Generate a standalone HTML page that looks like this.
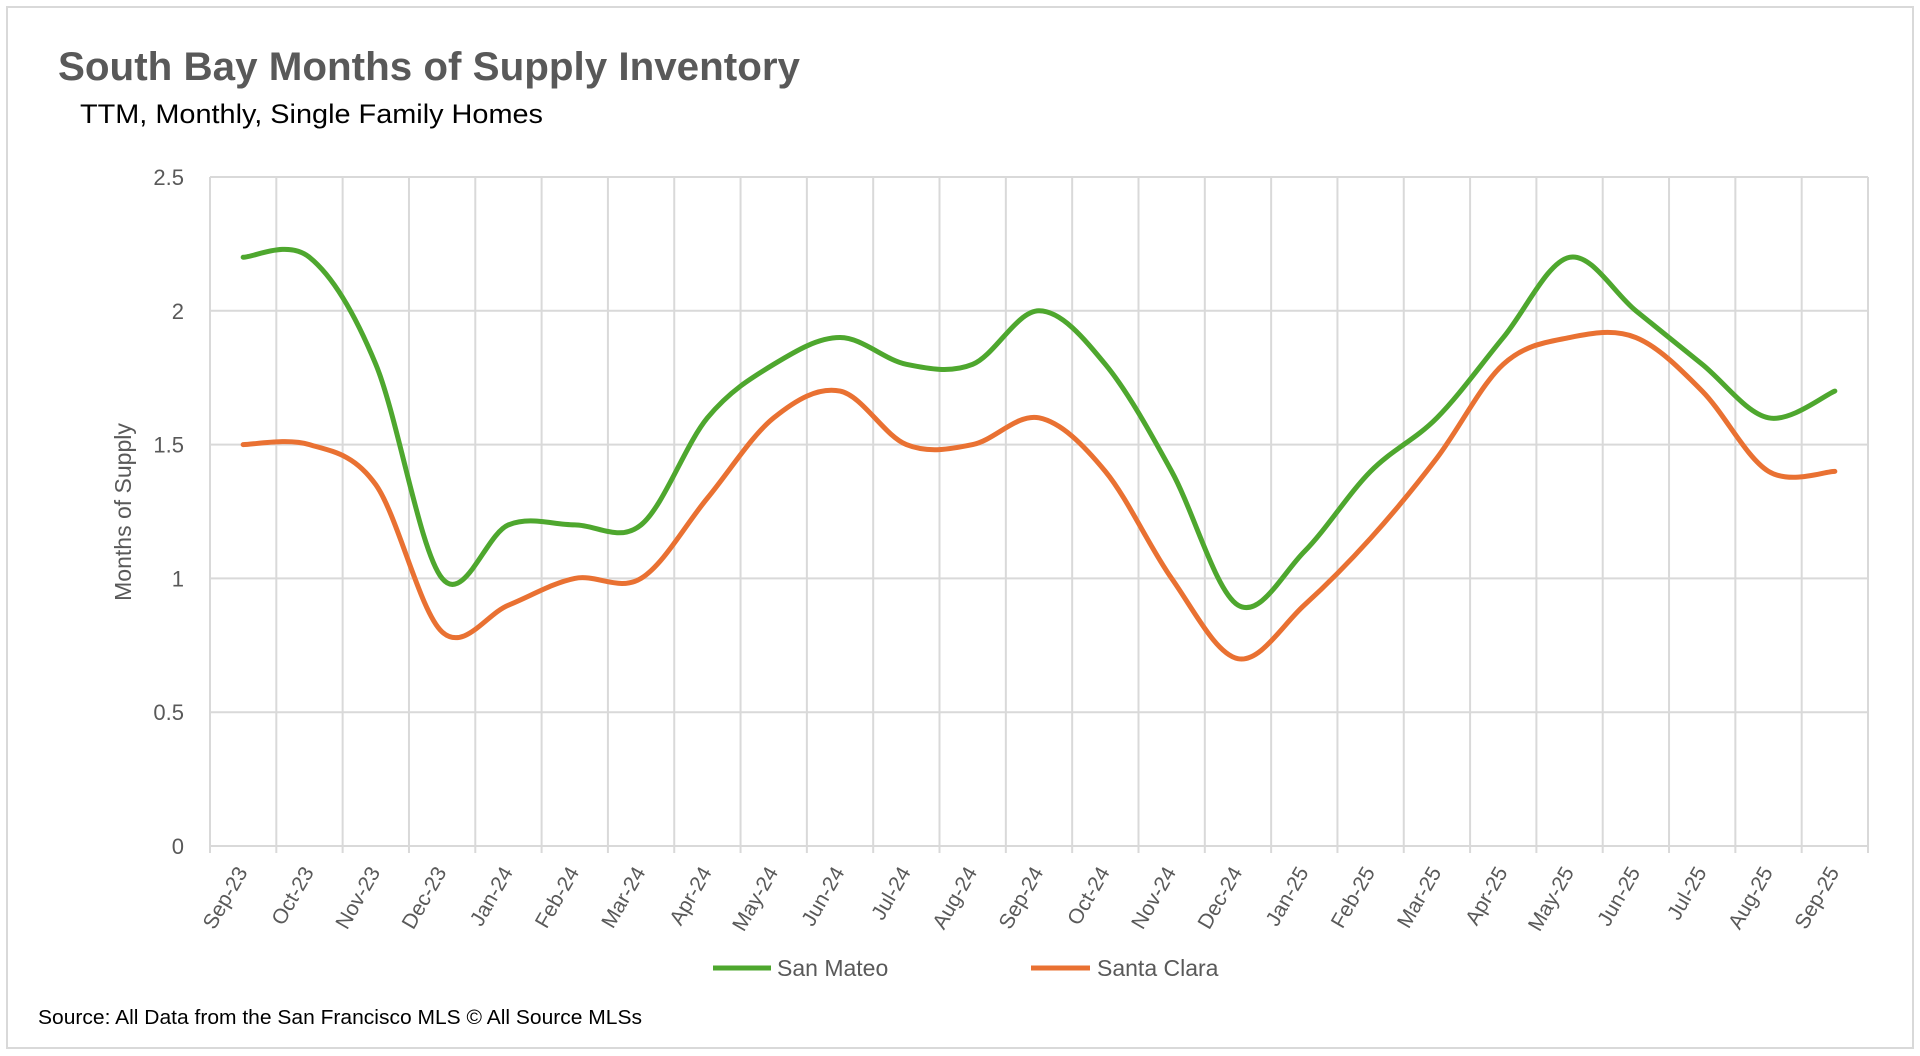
<!DOCTYPE html>
<html><head><meta charset="utf-8"><style>
html,body{margin:0;padding:0;background:#fff;}
svg{display:block;}
text{font-family:"Liberation Sans",sans-serif;}
</style></head><body>
<svg id="chart" width="1920" height="1056" viewBox="0 0 1920 1056">
<rect x="7" y="7" width="1906" height="1041" fill="#fff" stroke="#d9d9d9" stroke-width="2"/>
<text x="58" y="80" font-size="40" font-weight="bold" fill="#595959" style="font-family:'Liberation Sans Narrow','Liberation Sans',sans-serif" textLength="742" lengthAdjust="spacingAndGlyphs">South Bay Months of Supply Inventory</text>
<text x="80" y="123" font-size="27" fill="#000" style="font-family:'Liberation Sans Narrow','Liberation Sans',sans-serif" textLength="463" lengthAdjust="spacingAndGlyphs">TTM, Monthly, Single Family Homes</text>
<g id="grid"></g>
<g id="ylabels"></g>
<g id="xlabels"></g>
<g id="series"></g>
<text transform="translate(131,512) rotate(-90)" text-anchor="middle" font-size="23" fill="#595959">Months of Supply</text>
<g>
<line x1="713" y1="968" x2="771" y2="968" stroke="#4EA72E" stroke-width="5"/>
<text x="777" y="976" font-size="23" fill="#595959">San Mateo</text></g>
<g>
<line x1="1031" y1="968" x2="1090" y2="968" stroke="#E97132" stroke-width="5"/>
<text x="1097" y="976" font-size="23" fill="#595959">Santa Clara</text></g>
<text x="38" y="1024" font-size="20" fill="#000" style="font-family:'Liberation Sans Narrow','Liberation Sans',sans-serif" textLength="604" lengthAdjust="spacingAndGlyphs">Source: All Data from the San Francisco MLS © All Source MLSs</text>
</svg>
<script>
const categories = ["Sep-23","Oct-23","Nov-23","Dec-23","Jan-24","Feb-24","Mar-24","Apr-24","May-24","Jun-24","Jul-24","Aug-24","Sep-24","Oct-24","Nov-24","Dec-24","Jan-25","Feb-25","Mar-25","Apr-25","May-25","Jun-25","Jul-25","Aug-25","Sep-25"];
const sanMateo = [2.2,2.2,1.8,1.0,1.2,1.2,1.2,1.6,1.8,1.9,1.8,1.8,2.0,1.8,1.4,0.9,1.1,1.4,1.6,1.9,2.2,2.0,1.8,1.6,1.7];
const santaClara = [1.5,1.5,1.35,0.8,0.9,1.0,1.0,1.3,1.6,1.7,1.5,1.5,1.6,1.4,1.0,0.7,0.9,1.15,1.45,1.8,1.9,1.9,1.7,1.4,1.4];
const yTicks = [0,0.5,1,1.5,2,2.5];
const yTickLabels = ["0","0.5","1","1.5","2","2.5"];

const L=210,R=1868,T=177,B=846,yMax=2.5;
const cw=(R-L)/categories.length;
const xPos=i=>L+cw*(i+0.5);
const yPos=v=>B-(v/yMax)*(B-T);
const NS="http://www.w3.org/2000/svg";
function mk(tag,attrs,parent){const e=document.createElementNS(NS,tag);for(const k in attrs)e.setAttribute(k,attrs[k]);parent.appendChild(e);return e;}
const grid=document.getElementById('grid'),yl=document.getElementById('ylabels'),xl=document.getElementById('xlabels'),ser=document.getElementById('series');
yTicks.forEach((v,i)=>{
  const ln=mk('line',{x1:L,x2:R,y1:yPos(v),y2:yPos(v),stroke:'#d9d9d9','stroke-width':2},grid);
  
  
  const t=mk('text',{x:184,y:yPos(v)+8,'text-anchor':'end','font-size':22,fill:'#595959'},yl);
  t.textContent=yTickLabels[i];
  
  
});
for(let i=0;i<=categories.length;i++){
  const x=L+cw*i;
  const ln=mk('line',{x1:x,x2:x,y1:T,y2:B+7,stroke:'#d9d9d9','stroke-width':2},grid);
  
  
}
categories.forEach((c,i)=>{
  const x=xPos(i)+5,y=872;
  const t=mk('text',{x:x,y:y,'text-anchor':'end','font-size':21,fill:'#595959',transform:`rotate(-60 ${x} ${y})`},xl);
  t.textContent=c;
  
  
});
function smooth(vals){
  const p=vals.map((v,i)=>[xPos(i),yPos(v)]);
  let d=`M${p[0][0]},${p[0][1]}`;
  const k=1/6;
  for(let i=0;i<p.length-1;i++){
    const p0=p[i-1]||p[i],p1=p[i],p2=p[i+1],p3=p[i+2]||p[i+1];
    const c1=[p1[0]+(p2[0]-p0[0])*k,p1[1]+(p2[1]-p0[1])*k];
    const c2=[p2[0]-(p3[0]-p1[0])*k,p2[1]-(p3[1]-p1[1])*k];
    d+=` C${c1[0]},${c1[1]} ${c2[0]},${c2[1]} ${p2[0]},${p2[1]}`;
  }
  return d;
}
const l1=mk('path',{d:smooth(sanMateo),fill:'none',stroke:'#4EA72E','stroke-width':5,'stroke-linecap':'round'},ser);


const l2=mk('path',{d:smooth(santaClara),fill:'none',stroke:'#E97132','stroke-width':5,'stroke-linecap':'round'},ser);


</script>
</body></html>
